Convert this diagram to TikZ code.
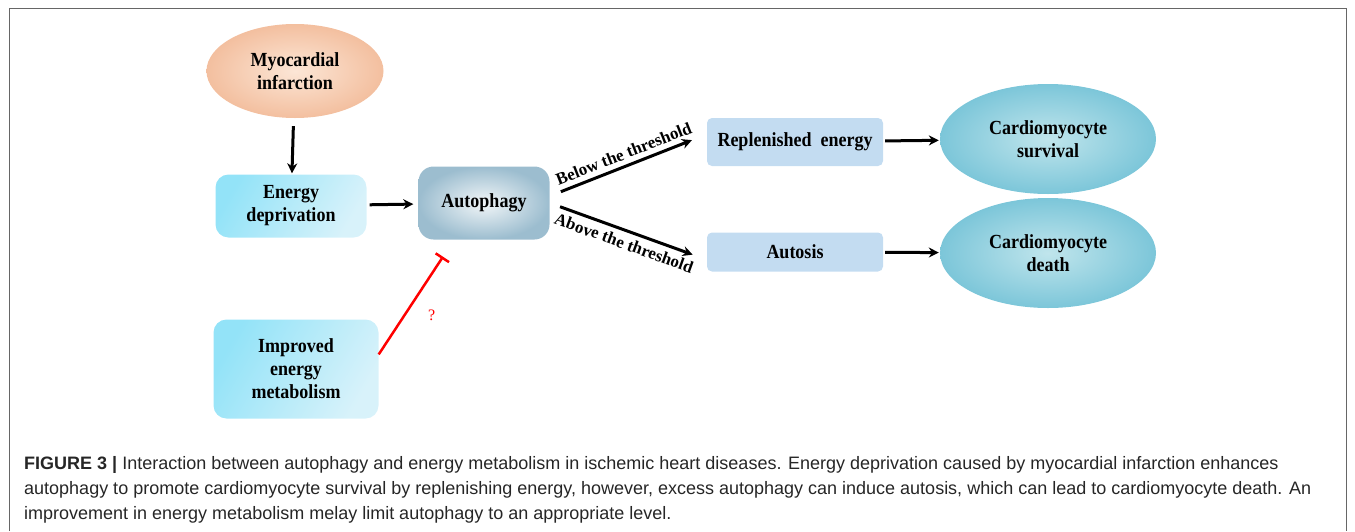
\documentclass[tikz,border=0pt]{standalone}
\usepackage{fontspec}
\setmainfont{Liberation Serif}
\newfontfamily\capfont{Liberation Sans}
\newfontfamily\boxfont[FakeStretch=0.9]{Liberation Serif}
\usetikzlibrary{calc, arrows.meta, shapes.geometric}

\definecolor{peachout}{HTML}{F3BF9F}
\definecolor{peachin}{HTML}{FCE6D6}
\definecolor{cyandark}{HTML}{93E3F8}
\definecolor{cyanlight}{HTML}{D8F2FA}
\definecolor{greyout}{HTML}{9CBDCF}
\definecolor{greyin}{HTML}{F2F6F8}
\definecolor{paleblue}{HTML}{C3DCF1}
\definecolor{tealout}{HTML}{7CC6D9}
\definecolor{tealin}{HTML}{C0E5EC}

\begin{document}
\begin{tikzpicture}[x=1pt, y=-1pt,
	lbl/.style={font=\boxfont\bfseries\fontsize{20}{23}\selectfont, align=center},
	rbox/.style={lbl, rounded corners=13pt, left color=cyandark, right color=cyanlight, shading angle=60},
	flatbox/.style={lbl, rounded corners=5pt, fill=paleblue, minimum width=176pt},
	blob/.style={lbl, ellipse, inner color=tealin, outer color=tealout, minimum width=216pt, minimum height=110pt},
	arr/.style={-{Stealth[length=10pt, width=10pt]}, line width=3pt},
	tlabel/.style={font=\bfseries\fontsize{17}{20}\selectfont, sloped, inner sep=5pt},
	capline/.style={anchor=base west, inner sep=0pt, font=\capfont\fontsize{18}{22}\selectfont, text=black!85}]

	\useasboundingbox (0,0) rectangle (1355,531);
	\draw[gray!80!black, line width=1pt] (9,531) -- (9,8) -- (1346,8) -- (1346,531);

	\node[lbl, ellipse, inner color=peachin, outer color=peachout, minimum width=177pt, minimum height=94pt] (mi) at (295,71) {Myocardial\\infarction};
	\node[rbox, minimum width=151pt, minimum height=63pt] (dep) at (291,206) {Energy\\deprivation};
	\node[lbl, rounded corners=15pt, inner color=greyin, outer color=greyout, minimum width=131pt, minimum height=73pt] (auto) at (484,203) {Autophagy};
	\node[rbox, minimum width=165pt, minimum height=99pt] (imp) at (296,369) {Improved\\energy\\metabolism};

	\node[flatbox, minimum height=48pt] (rep) at (795,142) {Replenished\ \ energy};
	\node[flatbox, minimum height=39pt] (aut) at (795,252) {Autosis};
	\node[blob] (surv) at (1048,139) {Cardiomyocyte\\survival};
	\node[blob] (death) at (1048,253) {Cardiomyocyte\\death};

	\draw[arr, shorten <=8pt, shorten >=1pt] (mi) -- (dep);
	\draw[arr, shorten <=3pt, shorten >=5pt] (dep) -- (auto);
	\draw[arr, shorten <=12pt, shorten >=16pt] (auto.6) -- node[tlabel, above] {Below the threshold} (rep.175);
	\draw[arr, shorten <=11pt, shorten >=15pt] (auto.east) -- node[tlabel, below] {Above the threshold} (aut.185);
	\draw[arr, shorten <=2pt, shorten >=1pt] (rep) -- (surv);
	\draw[arr, shorten <=2pt, shorten >=1pt] (aut) -- (death);

	\coordinate (inh) at ($(auto.south)+(-41,17)$);
	\draw[red, line width=2.5pt, -{Bar[width=16pt, line width=2.5pt]}] (imp.10) -- (inh) node[pos=0.4, right=19pt, font=\fontsize{16}{18}\selectfont] {?};

	\node[capline] (cap1) at (24,469) {{\bfseries FIGURE 3 |} Interaction between autophagy and energy metabolism in ischemic heart diseases. Energy deprivation caused by myocardial infarction enhances};
	\node[capline] (cap2) at (24,494) {autophagy to promote cardiomyocyte survival by replenishing energy, however, excess autophagy can induce autosis, which can lead to cardiomyocyte death. An};
	\node[capline] (cap3) at (24,519) {improvement in energy metabolism melay limit autophagy to an appropriate level.};

\end{tikzpicture}
\end{document}
